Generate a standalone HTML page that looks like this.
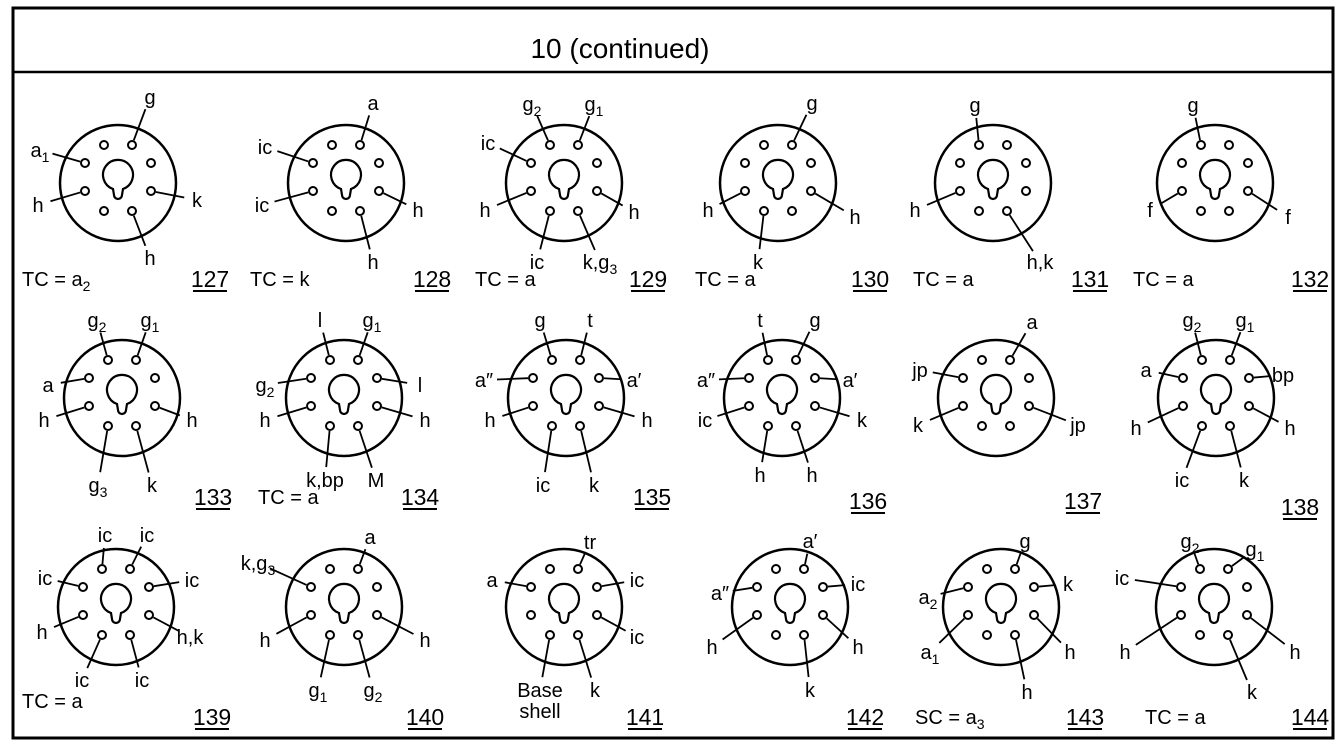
<!DOCTYPE html>
<html><head><meta charset="utf-8"><style>
html,body{margin:0;padding:0;background:#fff;width:1341px;height:749px;overflow:hidden}
svg{display:block}
text{font-family:"Liberation Sans","DejaVu Sans",sans-serif;fill:#000}
</style></head><body>
<svg id="s" width="1341" height="749" viewBox="0 0 1341 749" xmlns="http://www.w3.org/2000/svg">
<defs>
<g id="base" fill="none" stroke="#000">
<circle r="58" stroke-width="2.5"/>
<path d="M-5 12 A15 15 0 1 1 5 12 L4 18 A4 4 0 0 1 -4 18 Z" stroke-width="2.2" transform="translate(0,-6)"/>
<g stroke-width="2">
<circle cx="-14" cy="-38" r="4"/><circle cx="14" cy="-38" r="4"/>
<circle cx="33" cy="-20" r="4"/><circle cx="33" cy="8" r="4"/>
<circle cx="14" cy="28" r="4"/><circle cx="-14" cy="28" r="4"/>
<circle cx="-33" cy="8" r="4"/><circle cx="-33" cy="-20" r="4"/>
</g></g>
</defs>
<rect x="13" y="8" width="1320" height="730" fill="none" stroke="#000" stroke-width="3"/>
<line x1="13" y1="72" x2="1333" y2="72" stroke="#000" stroke-width="2.5"/>
<text x="620" y="58" font-size="28" text-anchor="middle">10 (continued)</text>
<g id="g"></g>
</svg>
<script>
var P={1:[-14,-38],2:[14,-38],3:[33,-20],4:[33,8],5:[14,28],6:[-14,28],7:[-33,8],8:[-33,-20]};
var D=[
[118,183,[[2,"g",150,97],[8,"a1",40,150],[7,"h",38,205],[4,"k",197,200],[5,"h",150,258]],"TC = a2",22,278,"127",210,278],
[346,183,[[2,"a",373,103],[8,"ic",265,147],[7,"ic",262,205],[4,"h",418,210],[5,"h",373,262]],"TC = k",250,278,"128",432,278],
[564,183,[[1,"g2",532,104],[2,"g1",594,104],[8,"ic",488,143],[7,"h",485,210],[4,"h",634,212],[6,"ic",537,262],[5,"k,g3",600,262]],"TC = a",475,278,"129",648,278],
[778,183,[[2,"g",812,103],[7,"h",708,210],[4,"h",855,217],[6,"k",758,262]],"TC = a",695,278,"130",870,278],
[993,183,[[1,"g",975,105],[7,"h",915,210],[5,"h,k",1040,262]],"TC = a",913,278,"131",1090,278],
[1215,183,[[1,"g",1193,105],[7,"f",1150,210],[4,"f",1288,217]],"TC = a",1133,278,"132",1310,278],
[122,398,[[1,"g2",97,320],[2,"g1",150,320],[8,"a",48,385],[7,"h",44,420],[4,"h",192,420],[6,"g3",98,485],[5,"k",152,485]],"",0,0,"133",213,496],
[344,398,[[1,"l",320,320],[2,"g1",372,320],[8,"g2",265,385],[3,"l",420,385],[7,"h",265,420],[4,"h",425,420],[6,"k,bp",325,480],[5,"M",376,480]],"TC = a",258,496,"134",420,496],
[566,398,[[1,"g",540,320],[2,"t",590,320],[8,"a\u2033",484,380],[3,"a\u2032",634,380],[7,"h",490,420],[4,"h",647,420],[6,"ic",543,485],[5,"k",594,485]],"",0,0,"135",652,496],
[782,398,[[1,"t",760,320],[2,"g",815,320],[8,"a\u2033",706,380],[3,"a\u2032",850,380],[7,"ic",705,420],[4,"k",862,420],[6,"h",760,475],[5,"h",812,475]],"",0,0,"136",868,500],
[996,398,[[2,"a",1032,322],[8,"jp",920,370],[7,"k",918,425],[4,"jp",1078,425]],"",0,0,"137",1083,500],
[1216,398,[[1,"g2",1192,320],[2,"g1",1245,320],[8,"a",1146,370],[3,"bp",1283,375],[7,"h",1136,428],[4,"h",1290,428],[6,"ic",1182,480],[5,"k",1244,480]],"",0,0,"138",1300,506],
[116,607,[[1,"ic",105,535],[2,"ic",147,535],[8,"ic",45,578],[3,"ic",192,580],[7,"h",42,632],[4,"h,k",190,637],[6,"ic",82,680],[5,"ic",142,680]],"TC = a",22,700,"139",212,716],
[344,607,[[2,"a",370,537],[8,"k,g3",258,563],[7,"h",265,640],[4,"h",425,640],[6,"g1",318,690],[5,"g2",373,690]],"",0,0,"140",425,716],
[564,607,[[2,"tr",590,542],[8,"a",492,580],[3,"ic",637,580],[4,"ic",637,637],[6,"Base",540,690],[5,"k",595,690]],"",0,0,"141",645,716],
[790,607,[[2,"a\u2032",810,541],[8,"a\u2033",720,593],[3,"ic",858,584],[7,"h",712,647],[4,"h",858,647],[5,"k",810,690]],"",0,0,"142",865,716],
[1001,607,[[2,"g",1025,541],[8,"a2",928,597],[3,"k",1068,584],[7,"a1",930,652],[4,"h",1070,652],[5,"h",1027,692]],"SC = a3",915,716,"143",1085,716],
[1214,607,[[1,"g2",1190,541],[2,"g1",1255,549],[8,"ic",1122,578],[7,"h",1125,652],[4,"h",1295,652],[5,"k",1252,692]],"TC = a",1145,716,"144",1310,716]
];
var G=document.getElementById("g"),h="";
function lab(s){var m=s.match(/^(.*?[a-z])(\d)$/);if(m)return m[1]+'<tspan font-size="14" dy="5">'+m[2]+'</tspan>';return s;}
D.forEach(function(d){var cx=d[0],cy=d[1];
h+='<use href="#base" x="'+cx+'" y="'+cy+'"/>';
d[2].forEach(function(l){var p=P[l[0]],px=cx+p[0],py=cy+p[1],lx=l[2],ly=l[3];
var dx=lx-px,dy=ly-py,L=Math.sqrt(dx*dx+dy*dy);var ux=dx/L,uy=dy/L;
h+='<line x1="'+(px+ux*5)+'" y1="'+(py+uy*5)+'" x2="'+(lx-ux*13)+'" y2="'+(ly-uy*13)+'" stroke="#000" stroke-width="1.8"/>';
h+='<text x="'+lx+'" y="'+(ly+7)+'" font-size="20" text-anchor="middle">'+lab(l[1])+'</text>';
if(l[1]=="Base")h+='<text x="'+lx+'" y="'+(ly+28)+'" font-size="20" text-anchor="middle">shell</text>';});
if(d[3])h+='<text x="'+d[4]+'" y="'+(d[5]+8)+'" font-size="20">'+d[3].replace(/([a-z])(\d)$/,'$1<tspan font-size="14" dy="5">$2</tspan>')+'</text>';
h+='<text x="'+d[7]+'" y="'+(d[8]+9)+'" font-size="23" text-anchor="middle">'+d[6]+'</text>';
h+='<line x1="'+(d[7]-17)+'" y1="'+(d[8]+13)+'" x2="'+(d[7]+17)+'" y2="'+(d[8]+13)+'" stroke="#000" stroke-width="2"/>';
});
G.innerHTML=h;
</script>
</body></html>
